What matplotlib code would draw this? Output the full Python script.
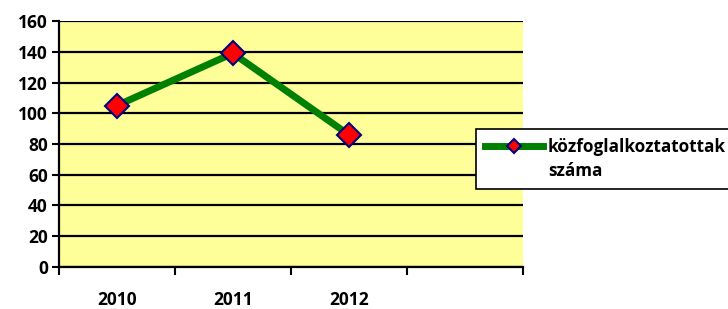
import matplotlib.pyplot as plt
from matplotlib.lines import Line2D
from matplotlib.ticker import FixedLocator, NullFormatter

FONT = ['Open Sans', 'DejaVu Sans']
plt.rcParams['font.family'] = FONT
plt.rcParams['font.weight'] = 'bold'

# Data
years = ['2010', '2011', '2012', '']
values = [105, 139, 86]
series_name = ['közfoglalkoztatottak', 'száma']
y_ticks = [0, 20, 40, 60, 80, 100, 120, 140, 160]

fig = plt.figure(figsize=(7.28, 3.09), dpi=100)
ax = fig.add_axes([0.081, 0.136, 0.637, 0.796])
ax.set_facecolor('#FFFF99')

x = list(range(len(values)))
line, = ax.plot(x, values, color='#008000', linewidth=5, marker='D', markersize=12,
                markerfacecolor='#FF0000', markeredgecolor='#000080', markeredgewidth=1.5,
                zorder=3)

ax.set_xlim(-0.5, len(years) - 0.5)
ax.set_ylim(0, 160)
ax.set_yticks(y_ticks)
ax.set_yticklabels([str(v) for v in y_ticks], fontweight='bold', fontsize=12.5)
ax.yaxis.grid(True, color='black', linewidth=1.6)
ax.set_axisbelow(True)

# category boundaries as major ticks, labels on minor ticks
ax.xaxis.set_major_locator(FixedLocator([i - 0.5 for i in range(len(years) + 1)]))
ax.xaxis.set_major_formatter(NullFormatter())
ax.xaxis.set_minor_locator(FixedLocator(list(range(len(years)))))
ax.set_xticklabels(years, minor=True, fontweight='bold', fontsize=12.5)
ax.tick_params(axis='x', which='major', length=6, width=1.5, direction='out')
ax.tick_params(axis='x', which='minor', length=0, pad=17)
ax.tick_params(axis='y', length=5, width=1.5, pad=3)

for s in ['top', 'right']:
    ax.spines[s].set_visible(False)
for s in ['left', 'bottom']:
    ax.spines[s].set_linewidth(1.6)
    ax.spines[s].set_zorder(4)

blank = Line2D([], [], linestyle='none')
leg = fig.legend([line, blank], series_name, loc='upper left',
                 bbox_to_anchor=(0.654, 0.5825),
                 prop={'family': FONT, 'weight': 'bold', 'size': 12.3},
                 frameon=True, fancybox=False, edgecolor='black', framealpha=1,
                 handlelength=3.4, handletextpad=0.3, markerscale=0.6,
                 borderpad=0.5, labelspacing=0.4, borderaxespad=0)
leg.get_frame().set_linewidth(1.2)

fig.savefig('out.png', dpi=100)
